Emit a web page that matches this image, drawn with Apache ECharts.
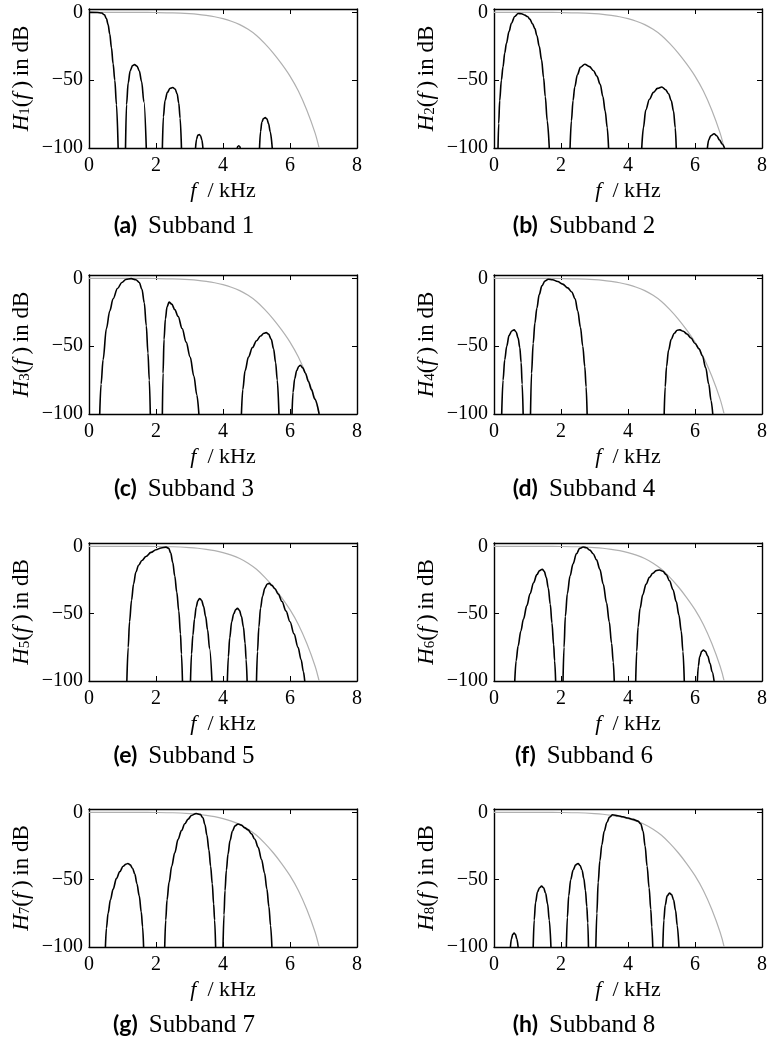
<!DOCTYPE html>
<html>
<head>
<meta charset="utf-8">
<script src="https://cdn.jsdelivr.net/npm/echarts@6/dist/echarts.min.js"></script>
<style>
  html, body { margin: 0; padding: 0; background: #fff; }
  #chart { width: 771px; height: 1040px; }
</style>
</head>
<body>
<div id="chart"></div>
<script>
// Axis ticks (frequency in kHz, magnitude in dB)
const xTicks = [0, 2, 4, 6, 8];
const yTicks = [-100, -50, 0];
const dbTop = 2.5;

// Caption text for each subband panel
const captionLetters = ['(a)', '(b)', '(c)', '(d)', '(e)', '(f)', '(g)', '(h)'];
const captionTexts = ['Subband 1', 'Subband 2', 'Subband 3', 'Subband 4',
                      'Subband 5', 'Subband 6', 'Subband 7', 'Subband 8'];

// Prototype low-pass response (grey), [f in kHz, dB]
const prototypeDb = [[0, 0], [1, 0], [1.5, -0.02], [2, -0.09], [2.5, -0.3], [3, -0.9], [3.25, -1.4],
  [3.5, -2.2], [3.75, -3.2], [4, -4.6], [4.25, -6.5], [4.5, -9], [4.75, -12.5], [5, -17],
  [5.25, -23], [5.5, -30], [5.75, -38], [6, -47], [6.25, -58], [6.5, -72], [6.75, -89], [6.87, -100]];

// Subband filter responses, one array per lobe, [f in kHz, dB]
const subband1 = [
  [[0, 0], [0.25, -0.1], [0.38, -0.5], [0.46, -1.8], [0.52, -4.5], [0.57, -9], [0.62, -16], [0.67, -26], [0.72, -38], [0.77, -50], [0.82, -68], [0.87, -100]],
  [[1.09, -100], [1.12, -68], [1.17, -52], [1.23, -43], [1.30, -39.2], [1.36, -38.5], [1.43, -39.5], [1.50, -43], [1.57, -51], [1.64, -66], [1.71, -100]],
  [[2.19, -100], [2.22, -77], [2.27, -65], [2.34, -59], [2.42, -56], [2.50, -55.4], [2.57, -56.5], [2.63, -60], [2.68, -67], [2.72, -78], [2.76, -100]],
  [[3.18, -100], [3.21, -93.5], [3.25, -90.5], [3.29, -90], [3.33, -91], [3.37, -94], [3.40, -100]],
  [[4.42, -100], [4.45, -98.7], [4.47, -98.4], [4.49, -98.7], [4.52, -100]],
  [[5.09, -100], [5.12, -88], [5.16, -81], [5.21, -78.2], [5.26, -77.6], [5.31, -78.5], [5.36, -82], [5.41, -88], [5.47, -100]]
];
const subband2 = [
  [[0.12, -100], [0.14, -82], [0.17, -65], [0.22, -50], [0.27, -40], [0.32, -30], [0.37, -23], [0.45, -14], [0.52, -8], [0.62, -3], [0.72, -0.8], [0.82, -1], [0.92, -2], [1.0, -3], [1.07, -5], [1.15, -8.5], [1.22, -12], [1.28, -17], [1.35, -25], [1.42, -35], [1.48, -48], [1.53, -62], [1.59, -80], [1.65, -100]],
  [[2.27, -100], [2.31, -80], [2.36, -65], [2.41, -55], [2.49, -46], [2.58, -40.5], [2.71, -38.2], [2.85, -40], [2.97, -43], [3.07, -47], [3.17, -53], [3.25, -62], [3.32, -73], [3.38, -85], [3.42, -100]],
  [[4.41, -100], [4.46, -85], [4.53, -72], [4.64, -64], [4.76, -59], [4.88, -56], [5.01, -55], [5.12, -57], [5.21, -60], [5.29, -65], [5.36, -73], [5.41, -85], [5.44, -100]],
  [[6.37, -100], [6.41, -94], [6.47, -91], [6.57, -89.5], [6.65, -91], [6.73, -94], [6.81, -97], [6.88, -100]]
];
const subband3 = [
  [[0.32, -100], [0.36, -78], [0.42, -60], [0.52, -37], [0.62, -24], [0.72, -15], [0.85, -7.5], [0.98, -3], [1.1, -0.8], [1.26, -0.2], [1.4, -1], [1.5, -3], [1.58, -8], [1.65, -18], [1.71, -35], [1.76, -55], [1.8, -75], [1.83, -100]],
  [[2.19, -100], [2.21, -70], [2.24, -45], [2.28, -30], [2.33, -21], [2.39, -17.5], [2.47, -19], [2.56, -23], [2.66, -28], [2.78, -37], [2.9, -47], [3.02, -58], [3.13, -72], [3.22, -86], [3.28, -100]],
  [[4.55, -100], [4.59, -82], [4.66, -68], [4.76, -58], [4.88, -51], [5.0, -46], [5.12, -42.5], [5.22, -40.5], [5.29, -40], [5.36, -41], [5.44, -45], [5.51, -52], [5.57, -62], [5.62, -75], [5.67, -100]],
  [[6.06, -100], [6.09, -84], [6.14, -74], [6.2, -68], [6.26, -65], [6.31, -64], [6.38, -66], [6.46, -70], [6.55, -76], [6.64, -82], [6.74, -89], [6.87, -100]]
];
const subband4 = [
  [[0.23, -100], [0.27, -75], [0.32, -60], [0.38, -50], [0.45, -42], [0.53, -38.8], [0.6, -38], [0.66, -39.5], [0.72, -44], [0.77, -51], [0.81, -62], [0.84, -78], [0.87, -100]],
  [[1.09, -100], [1.12, -70], [1.17, -48], [1.22, -33], [1.28, -22], [1.35, -12], [1.43, -5.5], [1.52, -2], [1.62, -0.6], [1.75, -1], [1.9, -2.3], [2.05, -4.2], [2.2, -7], [2.32, -10], [2.42, -15], [2.5, -24], [2.58, -36], [2.65, -50], [2.71, -65], [2.75, -80], [2.78, -100]],
  [[5.08, -100], [5.11, -80], [5.15, -65], [5.21, -53], [5.29, -45], [5.38, -40.5], [5.47, -38.2], [5.55, -38], [5.65, -39], [5.76, -41], [5.88, -44], [6.0, -48], [6.12, -52], [6.22, -57], [6.32, -66], [6.41, -78], [6.48, -90], [6.53, -100]]
];
const subband5 = [
  [[1.13, -100], [1.17, -75], [1.21, -56], [1.27, -40], [1.33, -28], [1.4, -19], [1.48, -14], [1.58, -10.5], [1.7, -7.5], [1.85, -4.5], [2.0, -2.5], [2.15, -1.2], [2.3, -0.6], [2.38, -1.5], [2.44, -5], [2.5, -12], [2.56, -22], [2.62, -34], [2.68, -48], [2.73, -65], [2.76, -80], [2.79, -100]],
  [[3.03, -100], [3.06, -80], [3.1, -66], [3.15, -54], [3.2, -45], [3.25, -40.5], [3.3, -38.7], [3.36, -40], [3.42, -44.5], [3.48, -52], [3.54, -62], [3.6, -76], [3.67, -100]],
  [[4.13, -100], [4.16, -82], [4.2, -68], [4.26, -56], [4.32, -50], [4.38, -47], [4.43, -46], [4.49, -47.5], [4.55, -52], [4.61, -60], [4.66, -72], [4.69, -84], [4.72, -100]],
  [[5.0, -100], [5.03, -78], [5.07, -60], [5.12, -46], [5.18, -37], [5.25, -31], [5.32, -28], [5.38, -27.5], [5.46, -29], [5.55, -31.5], [5.65, -35.5], [5.76, -41], [5.88, -48], [6.0, -56], [6.12, -65], [6.24, -75], [6.33, -84], [6.4, -93], [6.44, -100]]
];
const subband6 = [
  [[0.62, -100], [0.66, -85], [0.72, -74], [0.8, -63], [0.88, -54], [0.98, -44], [1.08, -35], [1.18, -27], [1.28, -21], [1.36, -18], [1.44, -17], [1.5, -18.5], [1.56, -23], [1.62, -31], [1.68, -43], [1.73, -57], [1.78, -73], [1.81, -85], [1.84, -100]],
  [[2.06, -100], [2.09, -75], [2.13, -52], [2.19, -35], [2.27, -22], [2.36, -13], [2.46, -5.5], [2.56, -1.5], [2.66, -0.5], [2.76, -1], [2.86, -2.8], [2.96, -5.5], [3.06, -10], [3.16, -17], [3.26, -28], [3.36, -42], [3.44, -56], [3.51, -72], [3.56, -86], [3.59, -100]],
  [[4.23, -100], [4.26, -78], [4.3, -60], [4.36, -46], [4.44, -36], [4.54, -28], [4.64, -23], [4.74, -20], [4.84, -18], [4.94, -17.6], [5.04, -18.5], [5.14, -21], [5.24, -25.5], [5.34, -32], [5.44, -41], [5.52, -51], [5.59, -63], [5.64, -78], [5.68, -100]],
  [[6.07, -100], [6.1, -89], [6.14, -82], [6.2, -78], [6.25, -77], [6.31, -78], [6.38, -81.5], [6.45, -87], [6.51, -93], [6.57, -100]]
];
const subband7 = [
  [[0.49, -100], [0.52, -86], [0.57, -75], [0.64, -65], [0.72, -57], [0.82, -49], [0.92, -44], [1.02, -40], [1.1, -38.5], [1.16, -38], [1.23, -39], [1.3, -41.5], [1.37, -46], [1.43, -53], [1.5, -62], [1.56, -74], [1.6, -85], [1.63, -100]],
  [[2.26, -100], [2.29, -80], [2.33, -65], [2.39, -52], [2.47, -40], [2.56, -30], [2.66, -20], [2.76, -13.5], [2.86, -8.5], [2.96, -5], [3.06, -2.3], [3.2, -0.8], [3.32, -1.5], [3.4, -4], [3.46, -9], [3.52, -17], [3.58, -28], [3.63, -40], [3.68, -53], [3.72, -68], [3.75, -80], [3.78, -100]],
  [[4.0, -100], [4.03, -76], [4.06, -58], [4.1, -43], [4.15, -31], [4.21, -21], [4.28, -14], [4.36, -10], [4.45, -8.6], [4.55, -9.5], [4.65, -11.5], [4.75, -13], [4.85, -16], [4.95, -20], [5.05, -26], [5.15, -35], [5.24, -45], [5.31, -57], [5.37, -70], [5.42, -84], [5.46, -100]]
];
const subband8 = [
  [[0.49, -100], [0.52, -94], [0.56, -90.5], [0.6, -89.7], [0.64, -90.5], [0.68, -94], [0.72, -100]],
  [[1.17, -100], [1.2, -80], [1.24, -67], [1.3, -59], [1.36, -56], [1.42, -54.8], [1.48, -56], [1.54, -60], [1.6, -68], [1.65, -80], [1.7, -100]],
  [[2.16, -100], [2.19, -78], [2.23, -62], [2.29, -50], [2.36, -43], [2.44, -39], [2.51, -38], [2.57, -39.5], [2.63, -43], [2.68, -49], [2.73, -58], [2.77, -70], [2.8, -82], [2.82, -100]],
  [[3.04, -100], [3.07, -75], [3.11, -52], [3.16, -36], [3.22, -24], [3.29, -14], [3.37, -7.5], [3.45, -3.5], [3.54, -1.8], [3.7, -2.5], [3.85, -3.3], [4.0, -4.2], [4.15, -5.2], [4.3, -6.5], [4.38, -8.5], [4.45, -14], [4.51, -25], [4.57, -40], [4.63, -56], [4.68, -72], [4.71, -85], [4.74, -100]],
  [[5.04, -100], [5.07, -80], [5.11, -69], [5.17, -62], [5.24, -60], [5.3, -61], [5.36, -65], [5.42, -73], [5.47, -84], [5.52, -100]]
];

const panels = [subband1, subband2, subband3, subband4, subband5, subband6, subband7, subband8];

// Layout of the 4x2 panel grid
const gridLeft = [89, 494];
const gridTop = [9, 275, 543, 809];
const plotWidth = 268;
const plotHeight = [139, 139, 138, 138];
const captionX = [184, 584];
const captionY = [226, 489, 756, 1025];

const serif = '"Liberation Serif", "Times New Roman", serif';
const sans = 'Lato, "Open Sans", sans-serif';

const minusFmt = v => (v > 0 ? '' : v < 0 ? '\u2212' + Math.abs(v) : '0');

const chart = echarts.init(document.getElementById('chart'), null, { renderer: 'canvas', width: 771, height: 1040 });

const grids = [], xAxes = [], yAxes = [], series = [], graphics = [];

panels.forEach((lobes, i) => {
  const col = i % 2, row = Math.floor(i / 2);
  grids.push({
    left: gridLeft[col], top: gridTop[row], width: plotWidth, height: plotHeight[row],
    containLabel: false, outerBoundsMode: 'none'
  });

  const frameLine = { show: true, onZero: false, lineStyle: { color: '#000', width: 1.4 } };
  const tick = { show: true, inside: true, length: 5, lineStyle: { color: '#000', width: 1 } };
  const xCommon = {
    type: 'value', gridIndex: i,
    min: xTicks[0], max: xTicks[xTicks.length - 1], interval: xTicks[1] - xTicks[0],
    axisLine: frameLine, axisTick: tick, splitLine: { show: false }
  };
  const yCommon = {
    type: 'value', gridIndex: i,
    min: yTicks[0], max: dbTop, interval: yTicks[1] - yTicks[0],
    axisLine: frameLine, axisTick: tick, splitLine: { show: false }
  };

  xAxes.push(Object.assign({}, xCommon, {
    position: 'bottom',
    axisLabel: { show: true, color: '#000', fontFamily: serif, fontSize: 20, margin: 8 },
    name: '{i|f}{n|\u2002/ kHz}',
    nameLocation: 'middle',
    nameGap: 32,
    nameTextStyle: {
      color: '#000', fontFamily: serif, fontSize: 22,
      rich: {
        i: { fontFamily: serif, fontSize: 22, fontStyle: 'italic', color: '#000' },
        n: { fontFamily: serif, fontSize: 22, color: '#000' }
      }
    }
  }));
  xAxes.push(Object.assign({}, xCommon, { position: 'top', axisLabel: { show: false } }));

  yAxes.push(Object.assign({}, yCommon, {
    position: 'left',
    axisLabel: { show: true, color: '#000', fontFamily: serif, fontSize: 20, margin: 6, formatter: minusFmt },
    name: '{h|H}{s|' + (i + 1) + '}{p|(}{h|f\u2009}{p|)\u2009in dB}',
    nameLocation: 'middle',
    nameRotate: 90,
    nameGap: 56,
    nameTextStyle: {
      color: '#000', fontFamily: serif, fontSize: 23,
      rich: {
        h: { fontFamily: serif, fontSize: 23, fontStyle: 'italic', color: '#000' },
        s: { fontFamily: serif, fontSize: 15, lineHeight: 10, verticalAlign: 'bottom', color: '#000' },
        p: { fontFamily: serif, fontSize: 23, color: '#000' }
      }
    }
  }));
  yAxes.push(Object.assign({}, yCommon, { position: 'right', axisLabel: { show: false } }));

  const xi = 2 * i, yi = 2 * i;
  series.push({
    type: 'line', xAxisIndex: xi, yAxisIndex: yi, data: prototypeDb,
    showSymbol: false, symbol: 'none', smooth: 0.3, silent: true, z: 1,
    lineStyle: { color: '#b0b0b0', width: 1.2 }
  });
  lobes.forEach(lobe => {
    series.push({
      type: 'line', xAxisIndex: xi, yAxisIndex: yi, data: lobe,
      showSymbol: false, symbol: 'none', smooth: 0.35, smoothMonotone: 'x', silent: true, z: 2,
      lineStyle: { color: '#000', width: 1.6 }
    });
  });

  graphics.push({
    type: 'text', x: captionX[col], y: captionY[row], silent: true,
    style: {
      text: '{b|' + captionLetters[i] + '}{g| }{s|' + captionTexts[i] + '}',
      align: 'center', verticalAlign: 'middle',
      rich: {
        b: { fontFamily: sans, fontWeight: 'bold', fontSize: 23, fill: '#000', color: '#000' },
        g: { fontFamily: serif, fontSize: 25, width: 11 },
        s: { fontFamily: serif, fontSize: 25, fill: '#000', color: '#000' }
      }
    }
  });
});

chart.setOption({
  animation: false,
  backgroundColor: '#fff',
  grid: grids,
  xAxis: xAxes,
  yAxis: yAxes,
  series: series,
  graphic: graphics
});
</script>
</body>
</html>
